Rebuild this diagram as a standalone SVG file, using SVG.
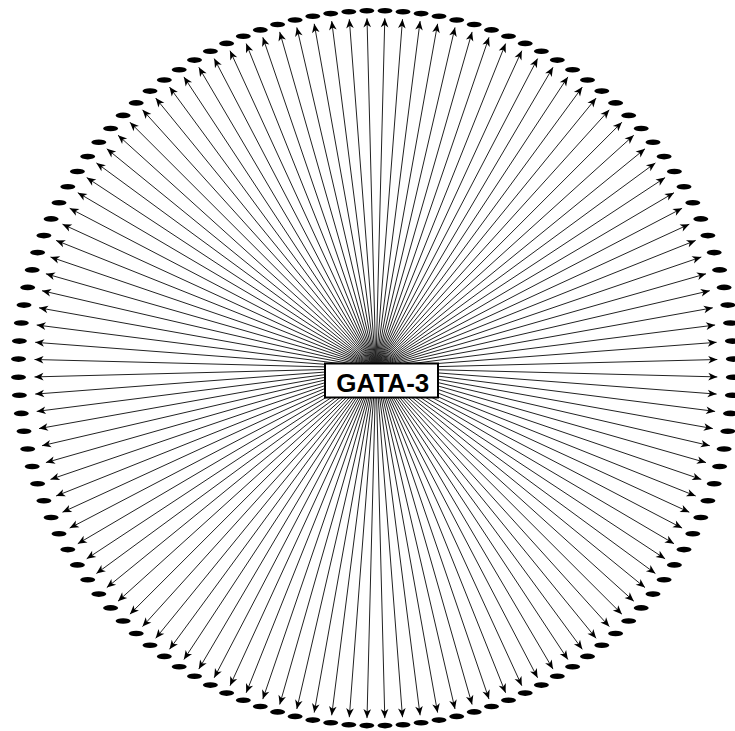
<svg xmlns="http://www.w3.org/2000/svg" width="735" height="731" viewBox="0 0 735 731">
<style>
.n ellipse{fill:#000;stroke:none}
#edges path{fill:none;stroke:#222;stroke-width:1;marker-end:url(#arr)}
.box{fill:#fff;stroke:#000;stroke-width:2}
.lbl{font-family:"Liberation Sans",Arial,sans-serif;font-weight:bold;font-size:26px;fill:#000;text-anchor:middle}
</style>
<defs>
<marker id="arr" markerUnits="userSpaceOnUse" markerWidth="12" markerHeight="10" refX="0" refY="0" orient="auto" overflow="visible">
<path d="M0,0 L-9,-3.8 L-6.5,0 L-9,3.8 Z" fill="#000"/>
</marker>
</defs>
<rect width="735" height="731" fill="#fff"/>
<g id="edges">
<path d="M375.9 368.2 384.8 18.3"/><path d="M375.9 368.2 402.5 19.2"/><path d="M375.9 368.2 420.1 21.1"/><path d="M375.9 368.2 437.6 23.8"/><path d="M375.9 368.2 455.0 27.4"/><path d="M375.9 368.2 472.1 31.9"/><path d="M375.9 368.2 489.0 37.3"/><path d="M375.9 368.2 505.6 43.6"/><path d="M375.9 368.2 521.8 50.7"/><path d="M375.9 368.2 537.6 58.6"/><path d="M375.9 368.2 553.0 67.3"/><path d="M375.9 368.2 567.9 76.9"/><path d="M375.9 368.2 582.3 87.1"/><path d="M375.9 368.2 596.1 98.1"/><path d="M375.9 368.2 609.3 109.8"/><path d="M375.9 368.2 621.9 122.2"/><path d="M375.9 368.2 633.8 135.2"/><path d="M375.9 368.2 645.0 148.8"/><path d="M375.9 368.2 655.4 162.9"/><path d="M375.9 368.2 665.1 177.6"/><path d="M375.9 368.2 674.0 192.7"/><path d="M375.9 368.2 682.1 208.3"/><path d="M375.9 368.2 689.3 224.2"/><path d="M375.9 368.2 695.7 240.4"/><path d="M375.9 368.2 701.3 257.0"/><path d="M375.9 368.2 706.0 273.8"/><path d="M375.9 368.2 709.8 290.7"/><path d="M375.9 368.2 712.8 307.8"/><path d="M375.9 368.2 715.1 325.0"/><path d="M375.9 368.2 716.6 342.3"/><path d="M375.9 368.2 717.3 359.5"/>
<path d="M375.9 368.2 717.3 376.9"/><path d="M375.9 368.2 716.6 394.1"/><path d="M375.9 368.2 715.1 411.4"/><path d="M375.9 368.2 712.8 428.6"/><path d="M375.9 368.2 709.8 445.7"/><path d="M375.9 368.2 706.0 462.6"/><path d="M375.9 368.2 701.3 479.4"/><path d="M375.9 368.2 695.7 496.0"/><path d="M375.9 368.2 689.3 512.2"/><path d="M375.9 368.2 682.1 528.1"/><path d="M375.9 368.2 674.0 543.7"/><path d="M375.9 368.2 665.1 558.8"/><path d="M375.9 368.2 655.4 573.5"/><path d="M375.9 368.2 645.0 587.6"/><path d="M375.9 368.2 633.8 601.2"/><path d="M375.9 368.2 621.9 614.2"/><path d="M375.9 368.2 609.3 626.6"/><path d="M375.9 368.2 596.1 638.3"/><path d="M375.9 368.2 582.3 649.3"/><path d="M375.9 368.2 567.9 659.5"/><path d="M375.9 368.2 553.0 669.1"/><path d="M375.9 368.2 537.6 677.8"/><path d="M375.9 368.2 521.8 685.7"/><path d="M375.9 368.2 505.6 692.8"/><path d="M375.9 368.2 489.0 699.1"/><path d="M375.9 368.2 472.1 704.5"/><path d="M375.9 368.2 455.0 709.0"/><path d="M375.9 368.2 437.6 712.6"/><path d="M375.9 368.2 420.1 715.3"/><path d="M375.9 368.2 402.5 717.2"/><path d="M375.9 368.2 384.8 718.1"/>
<path d="M375.9 368.2 367.0 718.1"/><path d="M375.9 368.2 349.3 717.2"/><path d="M375.9 368.2 331.7 715.3"/><path d="M375.9 368.2 314.2 712.6"/><path d="M375.9 368.2 296.8 709.0"/><path d="M375.9 368.2 279.7 704.5"/><path d="M375.9 368.2 262.8 699.1"/><path d="M375.9 368.2 246.2 692.8"/><path d="M375.9 368.2 230.0 685.7"/><path d="M375.9 368.2 214.2 677.8"/><path d="M375.9 368.2 198.8 669.1"/><path d="M375.9 368.2 183.9 659.5"/><path d="M375.9 368.2 169.5 649.3"/><path d="M375.9 368.2 155.7 638.3"/><path d="M375.9 368.2 142.5 626.6"/><path d="M375.9 368.2 129.9 614.2"/><path d="M375.9 368.2 118.0 601.2"/><path d="M375.9 368.2 106.8 587.6"/><path d="M375.9 368.2 96.4 573.5"/><path d="M375.9 368.2 86.7 558.8"/><path d="M375.9 368.2 77.8 543.7"/><path d="M375.9 368.2 69.7 528.1"/><path d="M375.9 368.2 62.5 512.2"/><path d="M375.9 368.2 56.1 496.0"/><path d="M375.9 368.2 50.5 479.4"/><path d="M375.9 368.2 45.9 462.6"/><path d="M375.9 368.2 42.0 445.7"/><path d="M375.9 368.2 39.0 428.6"/><path d="M375.9 368.2 36.7 411.4"/><path d="M375.9 368.2 35.2 394.1"/><path d="M375.9 368.2 34.5 376.9"/>
<path d="M375.9 368.2 34.5 359.5"/><path d="M375.9 368.2 35.2 342.3"/><path d="M375.9 368.2 36.7 325.0"/><path d="M375.9 368.2 39.0 307.8"/><path d="M375.9 368.2 42.0 290.7"/><path d="M375.9 368.2 45.9 273.8"/><path d="M375.9 368.2 50.5 257.0"/><path d="M375.9 368.2 56.1 240.4"/><path d="M375.9 368.2 62.5 224.2"/><path d="M375.9 368.2 69.7 208.3"/><path d="M375.9 368.2 77.8 192.7"/><path d="M375.9 368.2 86.7 177.6"/><path d="M375.9 368.2 96.4 162.9"/><path d="M375.9 368.2 106.8 148.8"/><path d="M375.9 368.2 118.0 135.2"/><path d="M375.9 368.2 129.9 122.2"/><path d="M375.9 368.2 142.5 109.8"/><path d="M375.9 368.2 155.7 98.1"/><path d="M375.9 368.2 169.5 87.1"/><path d="M375.9 368.2 183.9 76.9"/><path d="M375.9 368.2 198.8 67.3"/><path d="M375.9 368.2 214.2 58.6"/><path d="M375.9 368.2 230.0 50.7"/><path d="M375.9 368.2 246.2 43.6"/><path d="M375.9 368.2 262.8 37.3"/><path d="M375.9 368.2 279.7 31.9"/><path d="M375.9 368.2 296.8 27.4"/><path d="M375.9 368.2 314.2 23.8"/><path d="M375.9 368.2 331.7 21.1"/><path d="M375.9 368.2 349.3 19.2"/><path d="M375.9 368.2 367.0 18.3"/>
</g>
<g id="nodes">
<g id="n1" class="n"><ellipse cx="385.0" cy="10.8" rx="7.5" ry="2.8"/></g>
<g id="n2" class="n"><ellipse cx="403.0" cy="11.7" rx="7.5" ry="2.8"/></g>
<g id="n3" class="n"><ellipse cx="421.1" cy="13.6" rx="7.5" ry="2.8"/></g>
<g id="n4" class="n"><ellipse cx="439.0" cy="16.3" rx="7.5" ry="2.8"/></g>
<g id="n5" class="n"><ellipse cx="456.7" cy="20.0" rx="7.5" ry="2.8"/></g>
<g id="n6" class="n"><ellipse cx="474.2" cy="24.5" rx="7.5" ry="2.8"/></g>
<g id="n7" class="n"><ellipse cx="491.5" cy="29.9" rx="7.5" ry="2.8"/></g>
<g id="n8" class="n"><ellipse cx="508.5" cy="36.2" rx="7.5" ry="2.8"/></g>
<g id="n9" class="n"><ellipse cx="525.2" cy="43.4" rx="7.5" ry="2.8"/></g>
<g id="n10" class="n"><ellipse cx="541.4" cy="51.3" rx="7.5" ry="2.8"/></g>
<g id="n11" class="n"><ellipse cx="557.3" cy="60.1" rx="7.5" ry="2.8"/></g>
<g id="n12" class="n"><ellipse cx="572.6" cy="69.7" rx="7.5" ry="2.8"/></g>
<g id="n13" class="n"><ellipse cx="587.5" cy="80.0" rx="7.5" ry="2.8"/></g>
<g id="n14" class="n"><ellipse cx="601.8" cy="91.1" rx="7.5" ry="2.8"/></g>
<g id="n15" class="n"><ellipse cx="615.6" cy="102.9" rx="7.5" ry="2.8"/></g>
<g id="n16" class="n"><ellipse cx="628.7" cy="115.4" rx="7.5" ry="2.8"/></g>
<g id="n17" class="n"><ellipse cx="641.2" cy="128.5" rx="7.5" ry="2.8"/></g>
<g id="n18" class="n"><ellipse cx="653.0" cy="142.3" rx="7.5" ry="2.8"/></g>
<g id="n19" class="n"><ellipse cx="664.1" cy="156.6" rx="7.5" ry="2.8"/></g>
<g id="n20" class="n"><ellipse cx="674.4" cy="171.5" rx="7.5" ry="2.8"/></g>
<g id="n21" class="n"><ellipse cx="684.0" cy="186.8" rx="7.5" ry="2.8"/></g>
<g id="n22" class="n"><ellipse cx="692.8" cy="202.7" rx="7.5" ry="2.8"/></g>
<g id="n23" class="n"><ellipse cx="700.8" cy="218.9" rx="7.5" ry="2.8"/></g>
<g id="n24" class="n"><ellipse cx="707.9" cy="235.6" rx="7.5" ry="2.8"/></g>
<g id="n25" class="n"><ellipse cx="714.2" cy="252.6" rx="7.5" ry="2.8"/></g>
<g id="n26" class="n"><ellipse cx="719.6" cy="269.9" rx="7.5" ry="2.8"/></g>
<g id="n27" class="n"><ellipse cx="724.1" cy="287.4" rx="7.5" ry="2.8"/></g>
<g id="n28" class="n"><ellipse cx="727.8" cy="305.1" rx="7.5" ry="2.8"/></g>
<g id="n29" class="n"><ellipse cx="730.5" cy="323.0" rx="7.5" ry="2.8"/></g>
<g id="n30" class="n"><ellipse cx="732.4" cy="341.1" rx="7.5" ry="2.8"/></g>
<g id="n31" class="n"><ellipse cx="733.3" cy="359.1" rx="7.5" ry="2.8"/></g>
<g id="n32" class="n"><ellipse cx="733.3" cy="377.3" rx="7.5" ry="2.8"/></g>
<g id="n33" class="n"><ellipse cx="732.4" cy="395.3" rx="7.5" ry="2.8"/></g>
<g id="n34" class="n"><ellipse cx="730.5" cy="413.4" rx="7.5" ry="2.8"/></g>
<g id="n35" class="n"><ellipse cx="727.8" cy="431.3" rx="7.5" ry="2.8"/></g>
<g id="n36" class="n"><ellipse cx="724.1" cy="449.0" rx="7.5" ry="2.8"/></g>
<g id="n37" class="n"><ellipse cx="719.6" cy="466.5" rx="7.5" ry="2.8"/></g>
<g id="n38" class="n"><ellipse cx="714.2" cy="483.8" rx="7.5" ry="2.8"/></g>
<g id="n39" class="n"><ellipse cx="707.9" cy="500.8" rx="7.5" ry="2.8"/></g>
<g id="n40" class="n"><ellipse cx="700.8" cy="517.5" rx="7.5" ry="2.8"/></g>
<g id="n41" class="n"><ellipse cx="692.8" cy="533.7" rx="7.5" ry="2.8"/></g>
<g id="n42" class="n"><ellipse cx="684.0" cy="549.6" rx="7.5" ry="2.8"/></g>
<g id="n43" class="n"><ellipse cx="674.4" cy="564.9" rx="7.5" ry="2.8"/></g>
<g id="n44" class="n"><ellipse cx="664.1" cy="579.8" rx="7.5" ry="2.8"/></g>
<g id="n45" class="n"><ellipse cx="653.0" cy="594.1" rx="7.5" ry="2.8"/></g>
<g id="n46" class="n"><ellipse cx="641.2" cy="607.9" rx="7.5" ry="2.8"/></g>
<g id="n47" class="n"><ellipse cx="628.7" cy="621.0" rx="7.5" ry="2.8"/></g>
<g id="n48" class="n"><ellipse cx="615.6" cy="633.5" rx="7.5" ry="2.8"/></g>
<g id="n49" class="n"><ellipse cx="601.8" cy="645.3" rx="7.5" ry="2.8"/></g>
<g id="n50" class="n"><ellipse cx="587.5" cy="656.4" rx="7.5" ry="2.8"/></g>
<g id="n51" class="n"><ellipse cx="572.6" cy="666.7" rx="7.5" ry="2.8"/></g>
<g id="n52" class="n"><ellipse cx="557.3" cy="676.3" rx="7.5" ry="2.8"/></g>
<g id="n53" class="n"><ellipse cx="541.4" cy="685.1" rx="7.5" ry="2.8"/></g>
<g id="n54" class="n"><ellipse cx="525.2" cy="693.1" rx="7.5" ry="2.8"/></g>
<g id="n55" class="n"><ellipse cx="508.5" cy="700.2" rx="7.5" ry="2.8"/></g>
<g id="n56" class="n"><ellipse cx="491.5" cy="706.5" rx="7.5" ry="2.8"/></g>
<g id="n57" class="n"><ellipse cx="474.2" cy="711.9" rx="7.5" ry="2.8"/></g>
<g id="n58" class="n"><ellipse cx="456.7" cy="716.4" rx="7.5" ry="2.8"/></g>
<g id="n59" class="n"><ellipse cx="439.0" cy="720.1" rx="7.5" ry="2.8"/></g>
<g id="n60" class="n"><ellipse cx="421.1" cy="722.8" rx="7.5" ry="2.8"/></g>
<g id="n61" class="n"><ellipse cx="403.0" cy="724.7" rx="7.5" ry="2.8"/></g>
<g id="n62" class="n"><ellipse cx="385.0" cy="725.6" rx="7.5" ry="2.8"/></g>
<g id="n63" class="n"><ellipse cx="366.8" cy="725.6" rx="7.5" ry="2.8"/></g>
<g id="n64" class="n"><ellipse cx="348.8" cy="724.7" rx="7.5" ry="2.8"/></g>
<g id="n65" class="n"><ellipse cx="330.7" cy="722.8" rx="7.5" ry="2.8"/></g>
<g id="n66" class="n"><ellipse cx="312.8" cy="720.1" rx="7.5" ry="2.8"/></g>
<g id="n67" class="n"><ellipse cx="295.1" cy="716.4" rx="7.5" ry="2.8"/></g>
<g id="n68" class="n"><ellipse cx="277.6" cy="711.9" rx="7.5" ry="2.8"/></g>
<g id="n69" class="n"><ellipse cx="260.3" cy="706.5" rx="7.5" ry="2.8"/></g>
<g id="n70" class="n"><ellipse cx="243.3" cy="700.2" rx="7.5" ry="2.8"/></g>
<g id="n71" class="n"><ellipse cx="226.6" cy="693.1" rx="7.5" ry="2.8"/></g>
<g id="n72" class="n"><ellipse cx="210.4" cy="685.1" rx="7.5" ry="2.8"/></g>
<g id="n73" class="n"><ellipse cx="194.5" cy="676.3" rx="7.5" ry="2.8"/></g>
<g id="n74" class="n"><ellipse cx="179.2" cy="666.7" rx="7.5" ry="2.8"/></g>
<g id="n75" class="n"><ellipse cx="164.3" cy="656.4" rx="7.5" ry="2.8"/></g>
<g id="n76" class="n"><ellipse cx="150.0" cy="645.3" rx="7.5" ry="2.8"/></g>
<g id="n77" class="n"><ellipse cx="136.2" cy="633.5" rx="7.5" ry="2.8"/></g>
<g id="n78" class="n"><ellipse cx="123.1" cy="621.0" rx="7.5" ry="2.8"/></g>
<g id="n79" class="n"><ellipse cx="110.6" cy="607.9" rx="7.5" ry="2.8"/></g>
<g id="n80" class="n"><ellipse cx="98.8" cy="594.1" rx="7.5" ry="2.8"/></g>
<g id="n81" class="n"><ellipse cx="87.7" cy="579.8" rx="7.5" ry="2.8"/></g>
<g id="n82" class="n"><ellipse cx="77.4" cy="564.9" rx="7.5" ry="2.8"/></g>
<g id="n83" class="n"><ellipse cx="67.8" cy="549.6" rx="7.5" ry="2.8"/></g>
<g id="n84" class="n"><ellipse cx="59.0" cy="533.7" rx="7.5" ry="2.8"/></g>
<g id="n85" class="n"><ellipse cx="51.1" cy="517.5" rx="7.5" ry="2.8"/></g>
<g id="n86" class="n"><ellipse cx="43.9" cy="500.8" rx="7.5" ry="2.8"/></g>
<g id="n87" class="n"><ellipse cx="37.6" cy="483.8" rx="7.5" ry="2.8"/></g>
<g id="n88" class="n"><ellipse cx="32.2" cy="466.5" rx="7.5" ry="2.8"/></g>
<g id="n89" class="n"><ellipse cx="27.7" cy="449.0" rx="7.5" ry="2.8"/></g>
<g id="n90" class="n"><ellipse cx="24.0" cy="431.3" rx="7.5" ry="2.8"/></g>
<g id="n91" class="n"><ellipse cx="21.3" cy="413.4" rx="7.5" ry="2.8"/></g>
<g id="n92" class="n"><ellipse cx="19.4" cy="395.3" rx="7.5" ry="2.8"/></g>
<g id="n93" class="n"><ellipse cx="18.5" cy="377.3" rx="7.5" ry="2.8"/></g>
<g id="n94" class="n"><ellipse cx="18.5" cy="359.1" rx="7.5" ry="2.8"/></g>
<g id="n95" class="n"><ellipse cx="19.4" cy="341.1" rx="7.5" ry="2.8"/></g>
<g id="n96" class="n"><ellipse cx="21.3" cy="323.0" rx="7.5" ry="2.8"/></g>
<g id="n97" class="n"><ellipse cx="24.0" cy="305.1" rx="7.5" ry="2.8"/></g>
<g id="n98" class="n"><ellipse cx="27.7" cy="287.4" rx="7.5" ry="2.8"/></g>
<g id="n99" class="n"><ellipse cx="32.2" cy="269.9" rx="7.5" ry="2.8"/></g>
<g id="n100" class="n"><ellipse cx="37.6" cy="252.6" rx="7.5" ry="2.8"/></g>
<g id="n101" class="n"><ellipse cx="43.9" cy="235.6" rx="7.5" ry="2.8"/></g>
<g id="n102" class="n"><ellipse cx="51.1" cy="218.9" rx="7.5" ry="2.8"/></g>
<g id="n103" class="n"><ellipse cx="59.0" cy="202.7" rx="7.5" ry="2.8"/></g>
<g id="n104" class="n"><ellipse cx="67.8" cy="186.8" rx="7.5" ry="2.8"/></g>
<g id="n105" class="n"><ellipse cx="77.4" cy="171.5" rx="7.5" ry="2.8"/></g>
<g id="n106" class="n"><ellipse cx="87.7" cy="156.6" rx="7.5" ry="2.8"/></g>
<g id="n107" class="n"><ellipse cx="98.8" cy="142.3" rx="7.5" ry="2.8"/></g>
<g id="n108" class="n"><ellipse cx="110.6" cy="128.5" rx="7.5" ry="2.8"/></g>
<g id="n109" class="n"><ellipse cx="123.1" cy="115.4" rx="7.5" ry="2.8"/></g>
<g id="n110" class="n"><ellipse cx="136.2" cy="102.9" rx="7.5" ry="2.8"/></g>
<g id="n111" class="n"><ellipse cx="150.0" cy="91.1" rx="7.5" ry="2.8"/></g>
<g id="n112" class="n"><ellipse cx="164.3" cy="80.0" rx="7.5" ry="2.8"/></g>
<g id="n113" class="n"><ellipse cx="179.2" cy="69.7" rx="7.5" ry="2.8"/></g>
<g id="n114" class="n"><ellipse cx="194.5" cy="60.1" rx="7.5" ry="2.8"/></g>
<g id="n115" class="n"><ellipse cx="210.4" cy="51.3" rx="7.5" ry="2.8"/></g>
<g id="n116" class="n"><ellipse cx="226.6" cy="43.4" rx="7.5" ry="2.8"/></g>
<g id="n117" class="n"><ellipse cx="243.3" cy="36.2" rx="7.5" ry="2.8"/></g>
<g id="n118" class="n"><ellipse cx="260.3" cy="29.9" rx="7.5" ry="2.8"/></g>
<g id="n119" class="n"><ellipse cx="277.6" cy="24.5" rx="7.5" ry="2.8"/></g>
<g id="n120" class="n"><ellipse cx="295.1" cy="20.0" rx="7.5" ry="2.8"/></g>
<g id="n121" class="n"><ellipse cx="312.8" cy="16.3" rx="7.5" ry="2.8"/></g>
<g id="n122" class="n"><ellipse cx="330.7" cy="13.6" rx="7.5" ry="2.8"/></g>
<g id="n123" class="n"><ellipse cx="348.8" cy="11.7" rx="7.5" ry="2.8"/></g>
<g id="n124" class="n"><ellipse cx="366.8" cy="10.8" rx="7.5" ry="2.8"/></g>
</g>
<g id="gata3">
<rect class="box" x="325" y="363.5" width="113" height="34"/>
<text class="lbl" x="382.8" y="392">GATA-3</text>
</g>
</svg>
